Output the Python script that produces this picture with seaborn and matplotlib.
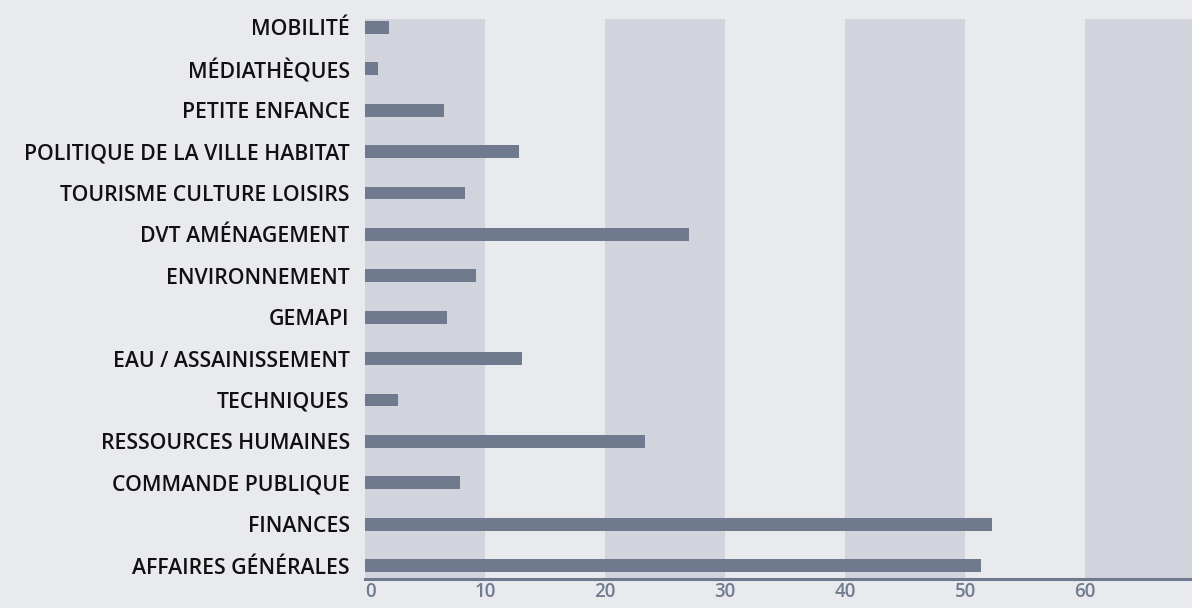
"""Horizontal bar chart of staff by service."""

import matplotlib

matplotlib.use("Agg")
import matplotlib.pyplot as plt
import pandas as pd
import seaborn as sns

categories = [
    "MOBILITÉ",
    "MÉDIATHÈQUES",
    "PETITE ENFANCE",
    "POLITIQUE DE LA VILLE HABITAT",
    "TOURISME CULTURE LOISIRS",
    "DVT AMÉNAGEMENT",
    "ENVIRONNEMENT",
    "GEMAPI",
    "EAU / ASSAINISSEMENT",
    "TECHNIQUES",
    "RESSOURCES HUMAINES",
    "COMMANDE PUBLIQUE",
    "FINANCES",
    "AFFAIRES GÉNÉRALES",
]
values = [2.0, 1.1, 6.6, 12.8, 8.3, 27.0, 9.25, 6.8, 13.1, 2.75, 23.3, 7.9, 52.2, 51.3]
x_ticks = [0, 10, 20, 30, 40, 50, 60]

BG = "#e9eaee"
BAND = "#d1d4dc"
BAR = "#6f7a8e"

sns.set_theme(style="white")
plt.rcParams["font.family"] = ["Open Sans", "DejaVu Sans"]

df = pd.DataFrame({"service": categories, "value": values})

fig = plt.figure(figsize=(11.92, 6.08), dpi=100, facecolor=BG)
ax = fig.add_axes([365 / 1192, 1 - 579 / 608, 1 - 365 / 1192, 560 / 608])
ax.set_facecolor(BG)

# alternating background bands
for start in range(0, 70, 20):
    ax.axvspan(start, start + 10, color=BAND, lw=0, zorder=0)

sns.barplot(data=df, x="value", y="service", orient="h", color=BAR,
            saturation=1, width=0.31, linewidth=0, ax=ax, zorder=2)

ax.set_xlim(0, 68.9)
ax.set_ylim(13.326, -0.205)
ax.set_xticks(x_ticks)
ax.set_xlabel("")
ax.set_ylabel("")

for side in ["top", "right", "left"]:
    ax.spines[side].set_visible(False)
ax.spines["bottom"].set_color(BAR)
ax.spines["bottom"].set_linewidth(2.2)

ax.tick_params(axis="y", length=0, pad=11, labelsize=15.3, labelcolor="#111111")
ax.tick_params(axis="x", length=0, pad=2.5, labelsize=13.5, labelcolor="#717c90")
for lbl in ax.get_yticklabels():
    lbl.set_fontweight("semibold")
for lbl in ax.get_xticklabels():
    lbl.set_fontweight("semibold")
ax.get_xticklabels()[0].set_horizontalalignment("left")

fig.savefig("out.png", dpi=100, facecolor=BG)
plt.close(fig)
